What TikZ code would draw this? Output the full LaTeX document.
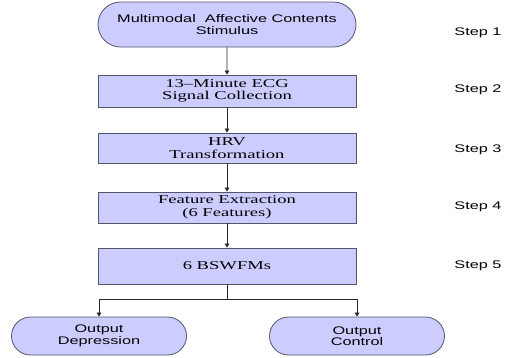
\documentclass[tikz,border=0pt]{standalone}
\usepackage{fontspec}
\setmainfont{Liberation Serif}
\newfontfamily\boxfont[FakeStretch=1.55]{Liberation Serif}
\newfontfamily\pillfont[FakeStretch=1.48]{Liberation Sans}
\usetikzlibrary{shapes.misc,arrows.meta}
\definecolor{boxfill}{RGB}{204,204,255}
\definecolor{boxline}{RGB}{85,85,105}
\definecolor{connline}{RGB}{40,40,40}
\tikzset{
  procbox/.style={draw=boxline, fill=boxfill, line width=0.8pt,
    minimum width=258pt, inner sep=0pt, align=center,
    font=\boxfont\fontsize{12}{12.5}\selectfont},
  pillbox/.style={rounded rectangle, draw=boxline, fill=boxfill, line width=0.8pt,
    inner sep=0pt, align=center,
    font=\pillfont\fontsize{11}{11.5}\selectfont},
  steplabel/.style={font=\pillfont\fontsize{11}{12}\selectfont, inner sep=0pt},
  conn/.style={draw=connline, line width=0.6pt},
  arr/.style={conn, -{Triangle[length=4pt,width=4.5pt]}}
}
\begin{document}
\begin{tikzpicture}[x=1pt,y=-1pt]
\useasboundingbox (0,0) rectangle (514,357);
\fill[white] (0,0) rectangle (514,357);

\node[pillbox, minimum width=258pt, minimum height=45pt] (s1) at (227,24.5)
  {Multimodal\ \ Affective Contents\\Stimulus};
\node[procbox, minimum height=32pt] (s2) at (227,91) {13\textendash Minute ECG\\Signal Collection};
\node[procbox, minimum height=30pt] (s3) at (227,148) {HRV\\Transformation};
\node[procbox, minimum height=31pt] (s4) at (227,207.5) {Feature Extraction\\(6 Features)};
\node[procbox, minimum height=36pt] (s5) at (227,266) {6 BSWFMs};
\node[pillbox, minimum width=175pt, minimum height=38pt] (o1) at (99,336) {Output\\Depression};
\node[pillbox, minimum width=175pt, minimum height=38pt] (o2) at (357,336) {Output\\Control};

\node[steplabel] (t1) at (478,33) {Step 1};
\node[steplabel] (t2) at (478,90) {Step 2};
\node[steplabel] (t3) at (478,150) {Step 3};
\node[steplabel] (t4) at (478,207) {Step 4};
\node[steplabel] (t5) at (478,266) {Step 5};

\draw[arr] (s1) -- (s2);
\draw[arr] (s2) -- (s3);
\draw[arr] (s3) -- (s4);
\draw[arr] (s4) -- (s5);
\coordinate (j) at (227,299);
\draw[conn] (s5.south) -- (j);
\draw[arr] (j) -| (o1.north);
\draw[arr] (j) -| (o2.north);
\end{tikzpicture}
\end{document}
